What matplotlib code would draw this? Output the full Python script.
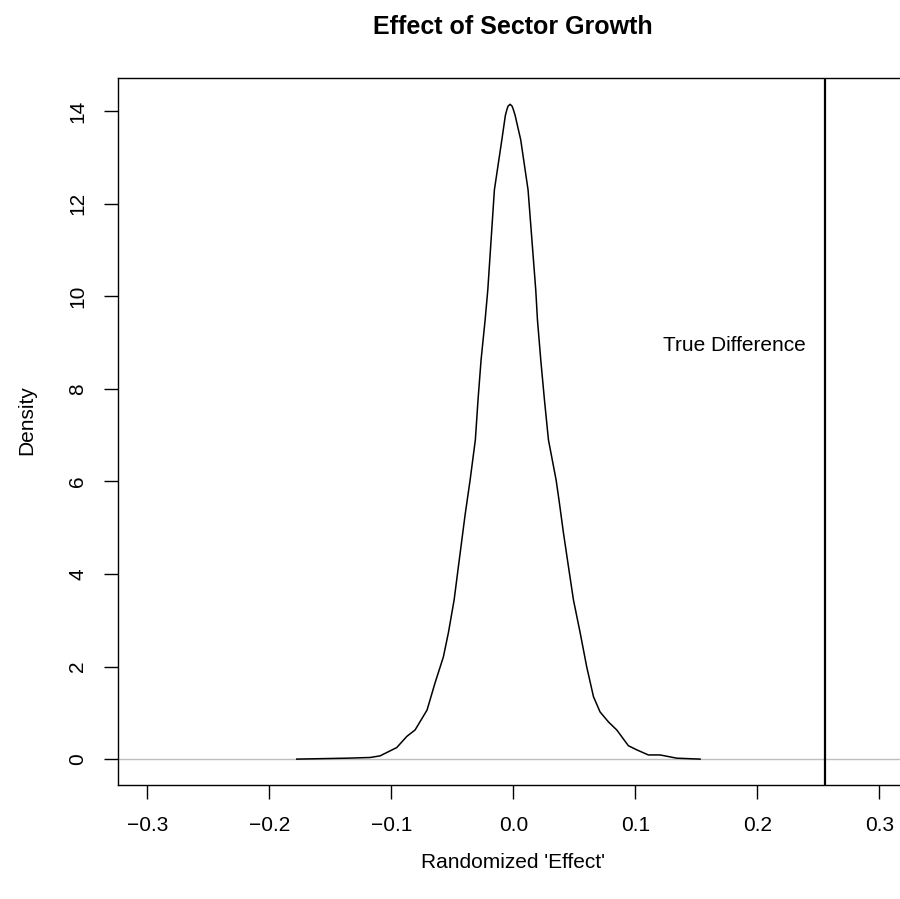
import numpy as np
from matplotlib import pyplot as plt

# -- data --

# randomization density of the "effect" (left tail -> peak -> right tail)
effect_x = [-0.1775, -0.1365, -0.1174, -0.1092, -0.0955, -0.0873, -0.0805,
            -0.0707, -0.0641, -0.0573, -0.0532, -0.0485, -0.0450, -0.0395,
            -0.0354, -0.0311, -0.0289, -0.0264, -0.0231, -0.0209, -0.0155,
            -0.0094, -0.0065, -0.0052, -0.0043, -0.0026, -0.0010, 0.0000,
            0.0015, 0.0061, 0.0121, 0.0184, 0.0198, 0.0225, 0.0255, 0.0288,
            0.0351, 0.0375, 0.0411, 0.0452, 0.0493, 0.0548, 0.0602, 0.0657,
            0.0711, 0.0781, 0.0848, 0.0943, 0.1012, 0.1107, 0.1203, 0.1340,
            0.1531]
density = [0.0, 0.02, 0.035, 0.07, 0.25, 0.49, 0.63,
           1.06, 1.65, 2.21, 2.73, 3.44, 4.16, 5.28,
           6.03, 6.90, 7.77, 8.63, 9.49, 10.14, 12.30,
           13.38, 13.91, 14.04, 14.11, 14.15, 14.11, 14.04,
           13.91, 13.38, 12.30, 10.14, 9.49, 8.63, 7.77, 6.90,
           6.03, 5.59, 4.89, 4.16, 3.44, 2.73, 1.99, 1.35,
           1.02, 0.80, 0.63, 0.29, 0.20, 0.09, 0.09, 0.02,
           0.0]

true_difference = 0.2556
x_ticks = [-0.3, -0.2, -0.1, 0.0, 0.1, 0.2, 0.3]
y_ticks = [0, 2, 4, 6, 8, 10, 12, 14]

label_pos = (0.181, 8.81)


# -- actual code --

plt.rcParams['font.family'] = ['Liberation Sans', 'DejaVu Sans']

fig = plt.figure(figsize=(9, 8.99), dpi=100)
# plot box runs past the right edge in the reference
ax = fig.add_axes([118 / 900, 113.7 / 899, 790.6 / 900, 707.2 / 899])

ax.axhline(0, color="#bebebe", lw=1.0, zorder=1)
ax.plot(effect_x, density, color="black", lw=1.1, zorder=2)
ax.axvline(true_difference, color="black", lw=1.6, zorder=2)
ax.text(label_pos[0], label_pos[1], "True Difference", fontsize=15,
        ha="center", va="baseline")

ax.set_xlim(-0.324, 0.324)
ax.set_ylim(-0.566, 14.716)
ax.set_xticks(x_ticks)
ax.set_xticklabels([f"{t:.1f}".replace("-", "\u2212") for t in x_ticks])
ax.set_yticks(y_ticks)
ax.set_yticklabels([str(t) for t in y_ticks], rotation=90, va="center")
ax.tick_params(length=10, width=1.0, labelsize=15, pad=12, color="black")

for side in ["left", "bottom", "top", "right"]:
    ax.spines[side].set_linewidth(1.0)

fig.text(513 / 900, 1 - 27 / 899, "Effect of Sector Growth", fontsize=18,
         fontweight="bold", ha="center", va="center")
fig.text(513 / 900, 1 - 862 / 899, "Randomized 'Effect'", fontsize=15,
         ha="center", va="center")
fig.text(27 / 900, 1 - 420 / 899, "Density", fontsize=15, rotation=90,
         ha="center", va="center")

fig.savefig("out.png", dpi=100)
